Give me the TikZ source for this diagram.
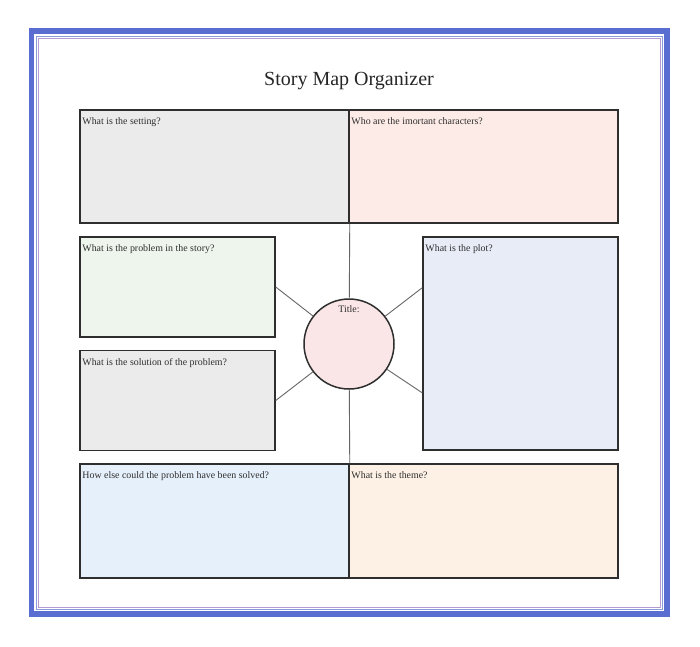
\documentclass[tikz,border=0pt]{standalone}
\usepackage{fontspec}
\setmainfont{Liberation Serif}
\usetikzlibrary{calc}
\definecolor{frameblue}{HTML}{5A6ED2}
\definecolor{framepurple}{HTML}{B49CD2}
\definecolor{boxline}{HTML}{2E2E2E}
\definecolor{txt}{HTML}{2E2E2E}
\definecolor{fgray}{HTML}{EBEBEB}
\definecolor{fpink}{HTML}{FDEBE7}
\definecolor{fgreen}{HTML}{EEF5EC}
\definecolor{fblue}{HTML}{E8ECF7}
\definecolor{fsky}{HTML}{E6F0FB}
\definecolor{forange}{HTML}{FDF1E5}
\definecolor{fcircle}{HTML}{FAE6E6}
\tikzset{
  box/.style={draw=boxline, line width=1.5pt, rectangle, inner sep=0pt},
  lbl/.style={anchor=base west, inner sep=0pt, text=txt, font=\fontsize{9.9}{12}\selectfont},
  conn/.style={draw=black!60, line width=0.9pt}
}
\begin{document}
\begin{tikzpicture}[x=1pt,y=-1pt]
\useasboundingbox (0,0) rectangle (700,646);
\fill[white] (0,0) rectangle (700,646);
% frame
\draw[frameblue, line width=5.5pt] (31.5,31) rectangle (667,614);
\draw[frameblue!70, line width=0.8pt] (36,36) rectangle (662,609);
\draw[framepurple, line width=1pt] (38.5,38.5) rectangle (660,607);
% title
\node[text=black!85, font=\fontsize{20}{24}\selectfont] (title) at (349,81) {Story Map Organizer};
% circle
\node[box, circle, fill=fcircle, minimum size=90pt] (c) at (349,344) {};
% boxes
\node[box, fill=fgray, minimum width=269pt, minimum height=113pt] (setting) at (214.5,166.5) {};
\node[box, fill=fpink, minimum width=269pt, minimum height=113pt] (chars) at (483.5,166.5) {};
\node[box, fill=fgreen, minimum width=195pt, minimum height=100pt] (prob) at (177.5,287) {};
\node[box, fill=fgray, minimum width=195pt, minimum height=100pt] (sol) at (177.5,400.5) {};
\node[box, fill=fblue, minimum width=195pt, minimum height=213pt] (plot) at (520.5,343.5) {};
\node[box, fill=fsky, minimum width=269pt, minimum height=114pt] (alt) at (214.5,521) {};
\node[box, fill=forange, minimum width=269pt, minimum height=114pt] (theme) at (483.5,521) {};
\coordinate (p1) at ($(plot.north west)!0.24!(plot.south west)$);
\coordinate (p2) at ($(plot.north west)!0.73!(plot.south west)$);
\draw[conn] (setting.south east) -- (c);
\draw[conn] (alt.north east) -- (c);
\draw[conn] (prob.east) -- (c);
\draw[conn] (sol.east) -- (c);
\draw[conn] (p1) -- (c);
\draw[conn] (p2) -- (c);
% labels
\node[lbl] (l1) at ($(setting.north west)+(3,15.5)$) {What is the setting?};
\node[lbl] (l2) at ($(chars.north west)+(3,15.5)$) {Who are the imortant characters?};
\node[lbl] (l3) at ($(prob.north west)+(3,15.5)$) {What is the problem in the story?};
\node[lbl] (l4) at ($(sol.north west)+(3,15.5)$) {What is the solution of the problem?};
\node[lbl] (l5) at ($(plot.north west)+(3,15.5)$) {What is the plot?};
\node[lbl] (l6) at ($(alt.north west)+(3,15.5)$) {How else could the problem have been solved?};
\node[lbl] (l7) at ($(theme.north west)+(3,15.5)$) {What is the theme?};
\node[lbl, anchor=base] (l8) at ($(c.north)+(0,14)$) {Title:};
\end{tikzpicture}
\end{document}
